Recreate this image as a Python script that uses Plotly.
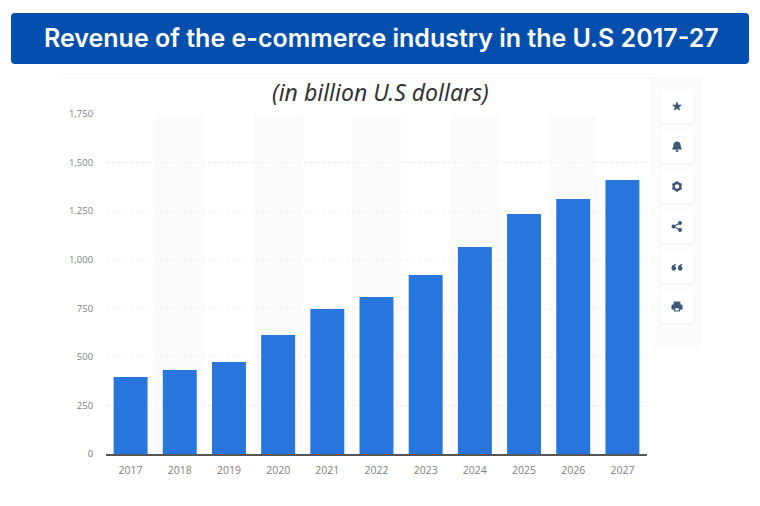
import math
import plotly.graph_objects as go

W, H = 760, 506
years = ["2017", "2018", "2019", "2020", "2021", "2022", "2023", "2024", "2025", "2026", "2027"]
revenue = [396, 432, 473, 612, 746, 808, 921, 1065, 1235, 1312, 1410]
y_ticks = [0, 250, 500, 750, 1000, 1250, 1500, 1750]
y_labels = ["0", "250", "500", "750", "1,000", "1,250", "1,500", "1,750"]
title_text = "Revenue of the e-commerce industry in the U.S 2017-27"
subtitle_text = "(in billion U.S dollars)"

BAR = "#2875DE"
HEAD = "#044EAE"
ICON = "#3E5878"


def X(v):
    return v / W


def Y(v):
    return 1 - v / H


def rrect(x0, y0, x1, y1, r):
    return (f"M {X(x0+r)} {Y(y0)} L {X(x1-r)} {Y(y0)} Q {X(x1)} {Y(y0)} {X(x1)} {Y(y0+r)} "
            f"L {X(x1)} {Y(y1-r)} Q {X(x1)} {Y(y1)} {X(x1-r)} {Y(y1)} "
            f"L {X(x0+r)} {Y(y1)} Q {X(x0)} {Y(y1)} {X(x0)} {Y(y1-r)} "
            f"L {X(x0)} {Y(y0+r)} Q {X(x0)} {Y(y0)} {X(x0+r)} {Y(y0)} Z")


def poly(pts):
    return "M " + " L ".join(f"{X(a)} {Y(b)}" for a, b in pts) + " Z"


def circle(cx, cy, r, n=20):
    return poly([(cx + r * math.cos(2 * math.pi * i / n), cy + r * math.sin(2 * math.pi * i / n)) for i in range(n)])


shapes = []


def add(path, fill, line=None, lw=0, layer="above"):
    shapes.append(dict(type="path", xref="paper", yref="paper", path=path, fillcolor=fill,
                       line=dict(color=line or "rgba(0,0,0,0)", width=lw), layer=layer))


# alternating bands behind the bars
for i in range(1, len(years), 2):
    shapes.append(dict(type="rect", xref="x", yref="y", x0=i - 0.5, x1=i + 0.5, y0=0, y1=y_ticks[-1],
                       fillcolor="#FBFBFB", line=dict(width=0), layer="below"))

# header and panel details
add(rrect(11, 13, 749, 64, 4), HEAD)
add(poly([(60, 78), (700, 78), (700, 78.8), (60, 78.8)]), "#F3F3F3", layer="below")
add(poly([(651, 79), (701, 79), (701, 350), (651, 350)]), "#FCFCFD", layer="below")

# toolbar buttons
btn_tops = [90, 130, 170, 210, 250, 290]
for t in btn_tops:
    add(rrect(659, t, 695, t + 35, 4), "#F5F6F7", layer="below")
    add(rrect(660.5, t, 693.5, t + 33, 3), "#FFFFFF")

cx = 677
# star
cy = btn_tops[0] + 16.5
add(poly([(cx + (5.4 if k % 2 == 0 else 2.3) * math.sin(k * math.pi / 5),
           cy - (5.4 if k % 2 == 0 else 2.3) * math.cos(k * math.pi / 5)) for k in range(10)]), ICON)
# bell
cy = btn_tops[1] + 16.5
add(f"M {X(cx-5)} {Y(cy+3)} Q {X(cx-3.6)} {Y(cy+1)} {X(cx-3.6)} {Y(cy-1.5)} Q {X(cx-3.4)} {Y(cy-5)} {X(cx)} {Y(cy-5)} "
    f"Q {X(cx+3.4)} {Y(cy-5)} {X(cx+3.6)} {Y(cy-1.5)} Q {X(cx+3.6)} {Y(cy+1)} {X(cx+5)} {Y(cy+3)} Z", ICON)
add(circle(cx, cy + 4.3, 1.3), ICON)
# gear
cy = btn_tops[2] + 16.5
add(circle(cx, cy, 3.4), "rgba(0,0,0,0)", ICON, 2.4)
for k in range(6):
    a = k * math.pi / 3 + math.pi / 6
    add(circle(cx + 4.5 * math.cos(a), cy + 4.5 * math.sin(a), 1.1, 8), ICON)
# share
cy = btn_tops[3] + 16.5
for dx, dy in [(-3.5, 0), (3, -3.5), (3, 3.5)]:
    add(circle(cx + dx, cy + dy, 2), ICON)
add(f"M {X(cx+3)} {Y(cy-3.5)} L {X(cx-3.5)} {Y(cy)} L {X(cx+3)} {Y(cy+3.5)}", "rgba(0,0,0,0)", ICON, 1.1)
# quotes
cy = btn_tops[4] + 17
for dx in (-3.2, 3.2):
    add(circle(cx + dx, cy + 1.4, 2.3), ICON)
    add(poly([(cx + dx - 2.3, cy + 1.4), (cx + dx - 1.6, cy - 1.6), (cx + dx + 1.8, cy - 3.2),
              (cx + dx + 2.1, cy - 2.2), (cx + dx + 0.2, cy + 0.5)]), ICON)
# printer
cy = btn_tops[5] + 16.5
add(rrect(cx - 5.5, cy - 2, cx + 5.5, cy + 3.2, 1.2), ICON)
add(rrect(cx - 3.4, cy - 5, cx + 3.4, cy - 1, 0.5), ICON)
add(poly([(cx - 3, cy + 0.8), (cx + 3, cy + 0.8), (cx + 3, cy + 5), (cx - 3, cy + 5)]), ICON)
add(poly([(cx - 1.9, cy + 1.8), (cx + 1.9, cy + 1.8), (cx + 1.9, cy + 3.9), (cx - 1.9, cy + 3.9)]), "#FFFFFF")

fig = go.Figure(go.Bar(x=years, y=revenue, marker=dict(color=BAR, line=dict(width=0)), width=0.69))

fig.update_layout(
    width=W, height=H, margin=dict(l=0, r=0, t=0, b=0), autosize=False,
    paper_bgcolor="#FFFFFF", plot_bgcolor="rgba(0,0,0,0)", showlegend=False, shapes=shapes,
    annotations=[
        dict(text=title_text, xref="paper", yref="paper", x=X(381.5), y=Y(38), showarrow=False,
             xanchor="center", yanchor="middle",
             font=dict(family="Inter", size=25, color="#FFFFFF", weight=600)),
        dict(text=subtitle_text, xref="paper", yref="paper", x=X(380), y=Y(92), showarrow=False,
             xanchor="center", yanchor="middle",
             font=dict(family="Noto Sans", size=23, color="#333333", style="italic")),
    ],
    xaxis=dict(domain=[X(106), X(647)], type="category", range=[-0.5, 10.5], showgrid=False, automargin=False,
               showline=True, linecolor="#555555", linewidth=1.5, ticks="outside", ticklen=6,
               tickcolor="rgba(0,0,0,0)", tickfont=dict(family="Open Sans", size=10.5, color="#808080")),
    yaxis=dict(domain=[Y(454), Y(114)], range=[0, 1750], tickvals=y_ticks, ticktext=y_labels, automargin=False,
               showgrid=True, gridcolor="#EDEDED", griddash="dot", gridwidth=1, zeroline=False,
               showline=False, ticks="outside", ticklen=10, tickcolor="rgba(0,0,0,0)",
               tickfont=dict(family="Open Sans", size=9.5, color="#808080")),
)

fig.write_html("out.html", config=dict(displayModeBar=False),
               post_script="document.body.style.margin='0';document.body.style.overflow='hidden';")
